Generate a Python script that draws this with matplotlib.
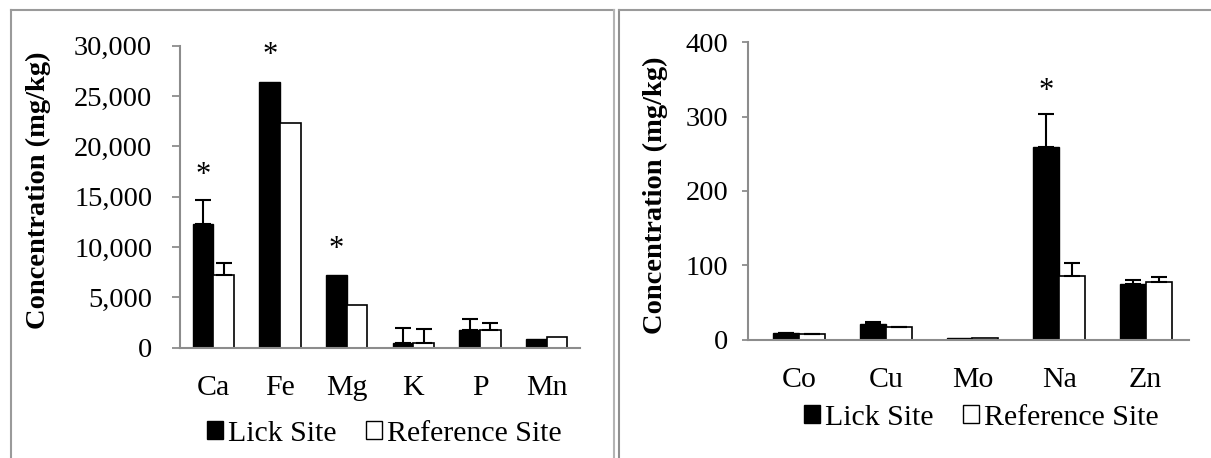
import numpy as np
import matplotlib.pyplot as plt
from matplotlib.lines import Line2D
from matplotlib.patches import Patch
from matplotlib.ticker import FuncFormatter

plt.rcParams['font.family'] = ['Liberation Serif', 'DejaVu Serif']

# left panel: major elements
left_elements = ['Ca', 'Fe', 'Mg', 'K', 'P', 'Mn']
left_lick = [12280, 26400, 7220, 440, 1760, 890]
left_lick_err = [2390, 0, 0, 1550, 1060, 0]
left_ref = [7220, 22340, 4240, 440, 1760, 1060]
left_ref_err = [1220, 0, 0, 1390, 720, 0]
left_star_elements = ['Ca', 'Fe', 'Mg']
left_star_y = [17750, 29660, 10430]

# right panel: trace elements
right_elements = ['Co', 'Cu', 'Mo', 'Na', 'Zn']
right_lick = [8.3, 21.5, 1.5, 259.7, 74.6]
right_lick_err = [0.5, 1.5, 0, 44, 5.4]
right_ref = [7.0, 16.4, 1.5, 85.5, 77.4]
right_ref_err = [0.5, 1.0, 0, 17.1, 6.8]
right_star_elements = ['Na']
right_star_y = [342.8]

legend_labels = ['Lick Site', 'Reference Site']

W, H = 1211, 458
fig = plt.figure(figsize=(W / 100, H / 100), dpi=100)


def box(x0, x1, y_top, y_bot):
    return [x0 / W, 1 - y_bot / H, (x1 - x0) / W, (y_bot - y_top) / H]


def line(xs, ys, color):
    fig.add_artist(Line2D([x / W for x in xs], [1 - y / H for y in ys],
                          transform=fig.transFigure, color=color, lw=1.5))


# panel frames
line([11, 11], [10, H], '#9a9a9a')
line([11, 614], [10, 10], '#9a9a9a')
line([614, 614], [10, H], '#b4b4b4')
line([618.5, 618.5], [10, H], '#8f8f8f')
line([618.5, W], [10, 10], '#9a9a9a')

axL = fig.add_axes(box(180, 580, 45.7, 347.7))
axR = fig.add_axes(box(748, 1189, 42.3, 339.5))

AXIS_GRAY = '#8c8c8c'


def draw(ax, cats, lick, lick_err, ref, ref_err, stars, star_y, w):
    x = np.arange(len(cats))
    ax.bar(x - w / 2, lick, w, color='black', edgecolor='black', linewidth=1)
    ax.bar(x + w / 2, ref, w, color='white', edgecolor='black', linewidth=1.2)
    for off, vals, errs in ((-w / 2, lick, lick_err), (w / 2, ref, ref_err)):
        idx = [i for i, e in enumerate(errs) if e > 0]
        ax.errorbar(x[idx] + off, np.array(vals)[idx],
                    yerr=[np.zeros(len(idx)), np.array(errs)[idx]],
                    fmt='none', ecolor='black', elinewidth=1.5,
                    capsize=6, capthick=1.5)
    for name, yv in zip(stars, star_y):
        ax.annotate('*', (cats.index(name) - w / 2, yv), xytext=(0, -10),
                    textcoords='offset points', ha='center', va='baseline',
                    fontsize=22)
    ax.set_xticks(x)
    ax.set_xticklabels(cats)
    for s in ('top', 'right'):
        ax.spines[s].set_visible(False)
    for s in ('left', 'bottom'):
        ax.spines[s].set_color(AXIS_GRAY)
        ax.spines[s].set_linewidth(1.5)
    ax.tick_params(axis='x', length=0, labelsize=21.5, pad=20)


draw(axL, left_elements, left_lick, left_lick_err, left_ref, left_ref_err,
     left_star_elements, left_star_y, 0.31)
axL.set_xlim(-0.5, 5.5)
axL.set_ylim(0, 30000)
axL.set_yticks(range(0, 30001, 5000))
axL.yaxis.set_major_formatter(FuncFormatter(lambda v, p: f'{int(v):,}'))
axL.tick_params(axis='y', direction='out', length=6, width=1.3,
                color=AXIS_GRAY, labelsize=20.5, pad=14)

draw(axR, right_elements, right_lick, right_lick_err, right_ref, right_ref_err,
     right_star_elements, right_star_y, 0.30)
axR.set_xlim(-0.592, 4.5)
axR.set_ylim(0, 400)
axR.set_yticks(range(0, 401, 100))
axR.tick_params(axis='y', direction='out', length=4, width=1.3,
                color=AXIS_GRAY, labelsize=20.5, pad=10)

ylab = 'Concentration (mg/kg)'
fig.text(38.5 / W, 1 - 190 / H, ylab, rotation=90, ha='center', va='center',
         fontsize=20.5, fontweight='bold')
fig.text(655 / W, 1 - 195 / H, ylab, rotation=90, ha='center', va='center',
         fontsize=20.5, fontweight='bold')

handles = [Patch(facecolor='black', edgecolor='black', linewidth=1),
           Patch(facecolor='white', edgecolor='black', linewidth=1)]
for ax, cx, cy in ((axL, 384, 434), (axR, 981, 418)):
    ax.legend(handles, legend_labels, loc='center',
              bbox_to_anchor=(cx / W, 1 - cy / H), bbox_transform=fig.transFigure,
              ncol=2, frameon=False, fontsize=21.5, handlelength=0.55,
              handleheight=0.55, handletextpad=0.15, columnspacing=1.0,
              borderpad=0, borderaxespad=0)

fig.savefig('out.png', dpi=100)
